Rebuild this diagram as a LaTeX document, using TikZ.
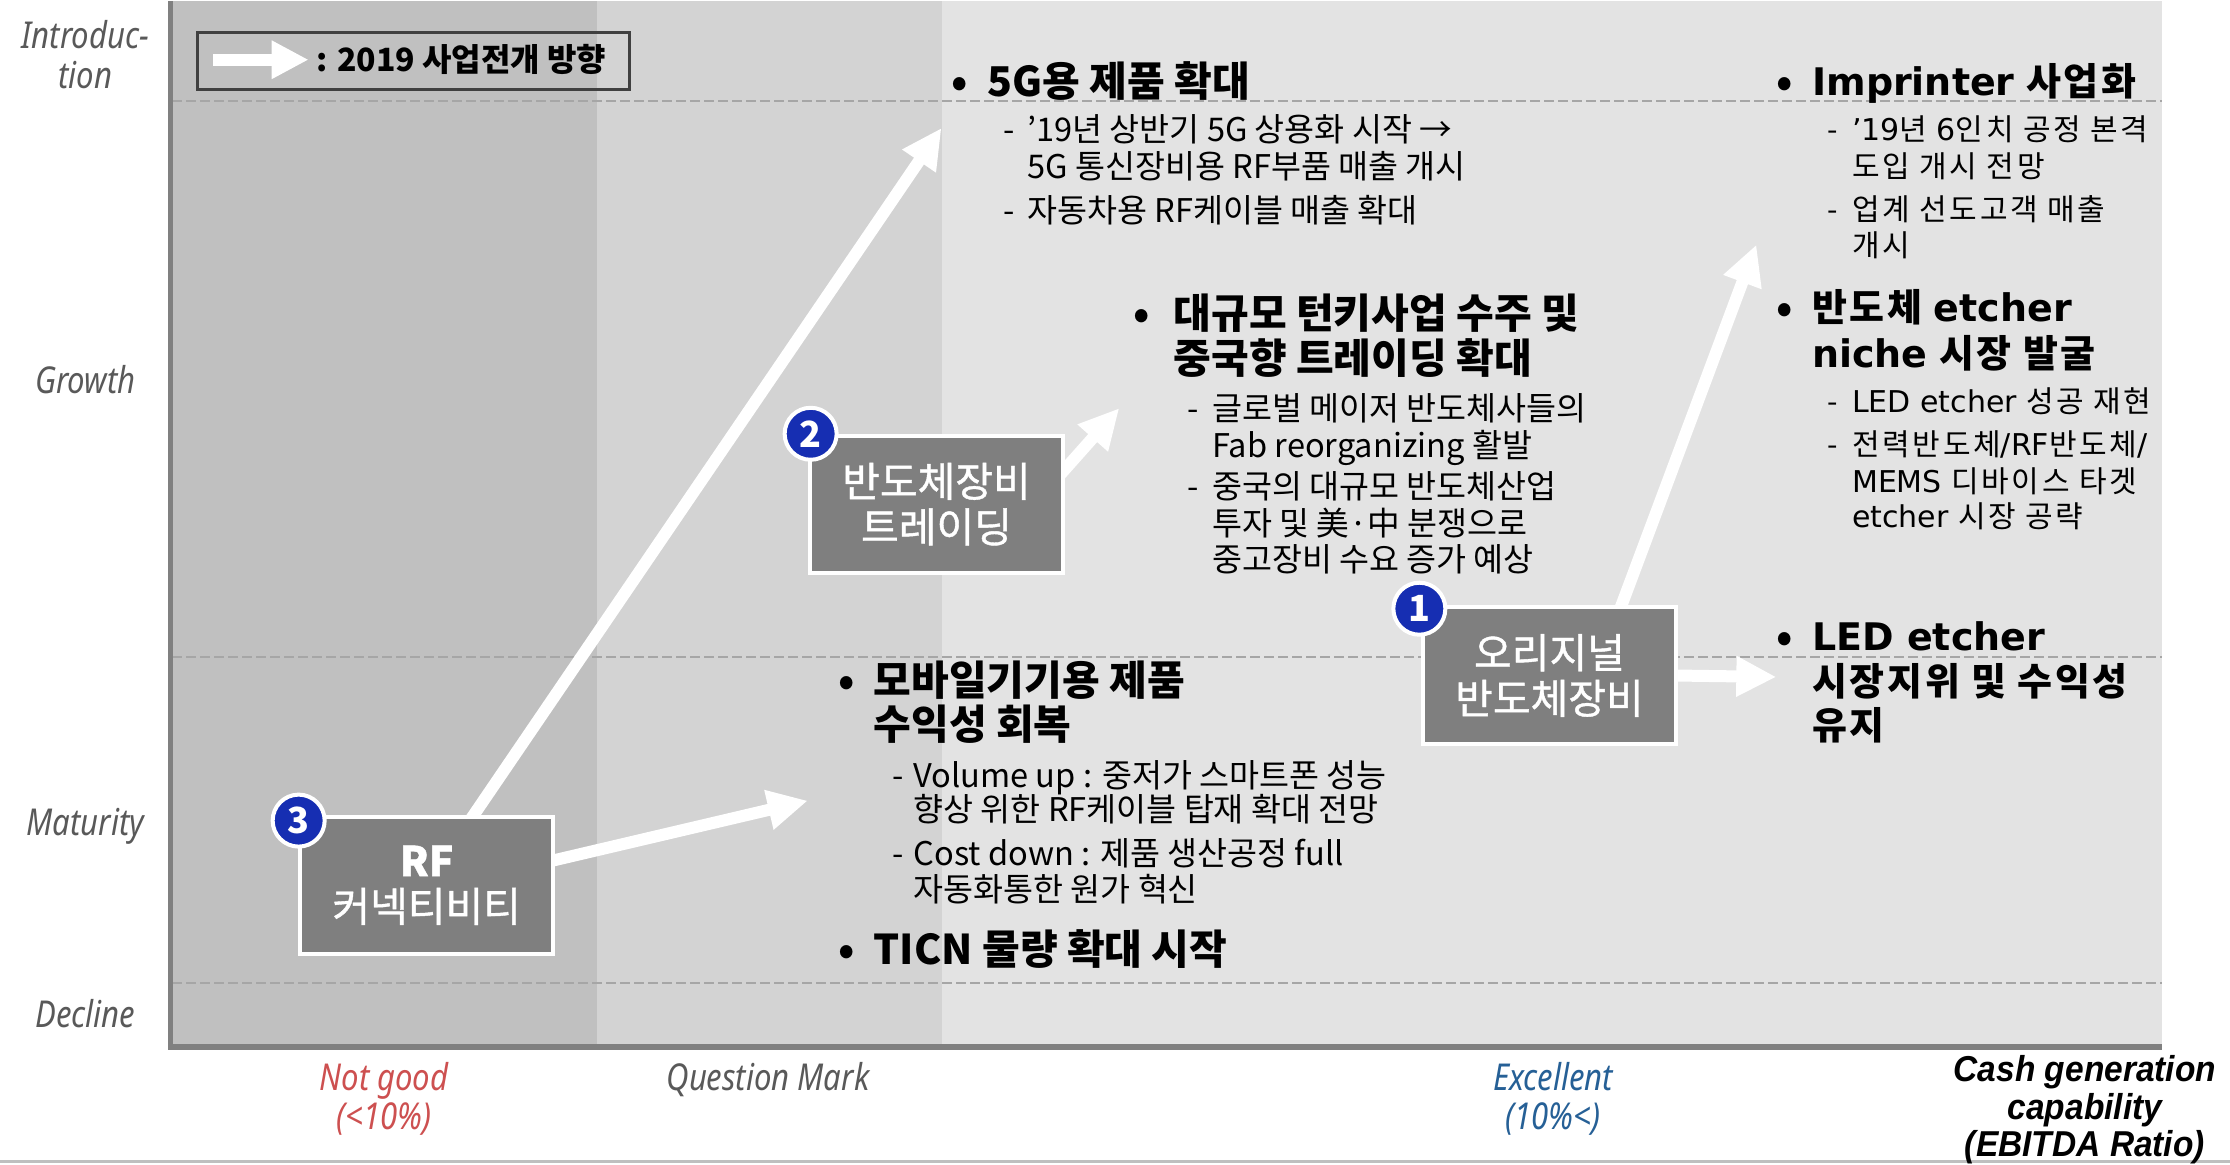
\documentclass[tikz,border=0pt]{standalone}
\usepackage{fontspec}
\setmainfont{Noto Sans CJK KR}
\newfontfamily\dv{DejaVu Sans}
\newfontfamily\krw{Noto Sans CJK KR}[LetterSpace=9]
\newfontfamily\krh{Noto Sans CJK KR}[LetterSpace=7]
\newfontfamily\medf{Noto Sans CJK KR}[FakeBold=1]
\newfontfamily\axf{Noto Sans}[FakeStretch=0.84]
\newfontfamily\cashf{Liberation Sans}[FakeStretch=0.93]
\usetikzlibrary{arrows.meta,calc}
\definecolor{rgA}{RGB}{192,192,192}
\definecolor{rgB}{RGB}{211,211,211}
\definecolor{rgC}{RGB}{227,227,227}
\definecolor{boxg}{RGB}{127,127,127}
\definecolor{numb}{RGB}{22,46,178}
\definecolor{axg}{RGB}{128,128,128}
\definecolor{dashg}{RGB}{166,166,166}
\definecolor{lblg}{RGB}{89,89,89}
\definecolor{ngred}{RGB}{205,80,80}
\definecolor{exblue}{RGB}{38,96,150}
\definecolor{legd}{RGB}{64,64,64}
\definecolor{botl}{RGB}{191,191,191}
\pgfdeclarelayer{bgl}
\pgfdeclarelayer{arl}
\pgfsetlayers{bgl,arl,main}
\newcommand\lt[1]{{\dv #1}}
\begin{document}
\begin{tikzpicture}[x=0.7111pt,y=-0.7111pt,
  bd/.style={anchor=west,inner sep=0pt,text height=12.4pt,text depth=0pt,font=\fontsize{16.3}{18}\selectfont},
  hd/.style={anchor=west,inner sep=0pt,text height=15.6pt,text depth=0pt,font=\fontsize{20.5}{23}\selectfont\bfseries},
  rbd/.style={anchor=west,inner sep=0pt,text height=11.4pt,text depth=0pt,font=\krw\fontsize{15}{18}\selectfont},
  rhd/.style={anchor=west,inner sep=0pt,text height=14.4pt,text depth=0pt,font=\krh\fontsize{19}{23}\selectfont\bfseries},
  bul/.style={hd,anchor=center},
  axl/.style={anchor=center,inner sep=0pt,text height=13.4pt,text depth=0pt,text=lblg,font=\axf\itshape\fontsize{18.5}{20}\selectfont},
  cashl/.style={anchor=center,inner sep=0pt,text height=13pt,text depth=0pt,text=black,font=\cashf\bfseries\itshape\fontsize{18}{20}\selectfont},
  stagebox/.style={draw=white,line width=2pt,fill=boxg,text=white,minimum width=126.7pt,minimum height=68.4pt,inner sep=0pt,align=center,font=\medf\fontsize{20.5}{22.8}\selectfont},
  numc/.style={circle,fill=numb,draw=white,line width=2pt,minimum size=26pt,inner sep=0pt,text=white,font=\fontsize{18}{18}\selectfont\bfseries},
  warr/.style={draw=white,line width=6pt,-{Triangle[width=19pt,length=20pt]}},
  legarr/.style={draw=white,line width=5.8pt,-{Triangle[width=18pt,length=18.5pt]}}
]
\useasboundingbox (0,0) rectangle (1568,819);
\begin{pgfonlayer}{bgl}
\fill[white] (0,0) rectangle (1568,819);
\fill[rgA] (120,1) rectangle (420,736);
\fill[rgB] (420,1) rectangle (662,736);
\fill[rgC] (662,1) rectangle (1520,736);
\foreach \yy in {71,462,691}
  \draw[dashg,line width=1pt,dash pattern=on 5pt off 2pt] (121,\yy) -- (1520,\yy);
\draw[axg,line width=2.8pt,line join=miter] (120,1) -- (120,736) -- (1520,736);
\draw[botl,line width=1.5pt] (0,817) -- (1568,817);
\end{pgfonlayer}

% axis labels
\node[axl] (yl1) at (60,25) {Introduc-};
\node[axl] (yl2) at (60,53) {tion};
\node[axl] (yl3) at (60,267) {Growth};
\node[axl] (yl4) at (60,578) {Maturity};
\node[axl] (yl5) at (60,713) {Decline};
\node[axl,text=ngred] (xl1) at (270,757) {Not good};
\node[axl,text=ngred] (xl2) at (270,785) {(<10\%)};
\node[axl] (xl3) at (540,757) {Question Mark};
\node[axl,text=exblue] (xl4) at (1092,757) {Excellent};
\node[axl,text=exblue] (xl5) at (1092,785) {(10\%<)};
\node[cashl] (cs1) at (1466,751) {Cash generation};
\node[cashl] (cs2) at (1466,778) {capability};
\node[cashl] (cs3) at (1466,804) {(EBITDA Ratio)};

% legend
\node[draw=legd,line width=1.4pt,minimum width=216pt,minimum height=28.5pt,inner sep=0pt] (leg) at (291,43) {};
\coordinate (la1) at (150,42);
\coordinate (la2) at (217,42);
\draw[legarr] (la1) -- (la2);
\node[anchor=west,inner sep=0pt,text height=11.6pt,text depth=0pt,font=\fontsize{16}{18}\selectfont\bfseries] (legt) at (222,42) {: 2019 사업전개 방향};

% boxes
\node[stagebox] (b2) at (658.5,354.5) {반도체장비\\트레이딩};
\node[stagebox] (b3) at (300,622.5) {{\bfseries RF}\\커넥티비티};
\node[stagebox] (b1) at (1089.5,475) {오리지널\\반도체장비};
\node[numc] (c2) at (570,305) {2};
\node[numc] (c3) at (210,577) {3};
\node[numc] (c1) at (998,428) {1};

% arrows
\coordinate (t1) at (662,90);
\coordinate (t2) at (568,563);
\coordinate (t3) at (787,287);
\coordinate (t4) at (1235,172);
\coordinate (t5) at (1249,476);
\coordinate (s1) at ($(b3.north west)!0.683!(b3.north east)$);
\coordinate (s2) at ($(b3.north east)!0.32!(b3.south east)$);
\coordinate (s3) at ($(b2.north east)!0.25!(b2.south east)$);
\coordinate (s4) at ($(b1.north west)!0.78!(b1.north east)$);
\coordinate (s5) at (b1.east);
\begin{pgfonlayer}{arl}
\draw[warr] ($(s1)!-8pt!(t1)$) -- (t1);
\draw[warr] ($(s2)!-8pt!(t2)$) -- (t2);
\draw[warr] ($(s3)!-8pt!(t3)$) -- (t3);
\draw[warr] ($(s4)!-8pt!(t4)$) -- (t4);
\draw[warr] ($(s5)!-8pt!(t5)$) -- (t5);
\end{pgfonlayer}

% block A
\node[bul] (a0) at (675,57) {•};
\node[hd] (a1) at (694,57) {5G용 제품 확대};
\node[bd] (a2d) at (705,91) {-};
\node[bd] (a2) at (722,91) {’19년 상반기 5G 상용화 시작 →};
\node[bd] (a3) at (722,117) {5G 통신장비용 RF부품 매출 개시};
\node[bd] (a4d) at (705,148) {-};
\node[bd] (a4) at (722,148) {자동차용 RF케이블 매출 확대};

% block B
\node[bul] (bb0) at (803,220) {•};
\node[hd] (bb1) at (825,220) {대규모 턴키사업 수주 및};
\node[hd] (bb2) at (825,252) {중국향 트레이딩 확대};
\node[bd] (bb3d) at (835,287) {-};
\node[bd] (bb3) at (852,287) {글로벌 메이저 반도체사들의};
\node[bd] (bb4) at (852,313) {Fab reorganizing 활발};
\node[bd] (bb5d) at (835,342) {-};
\node[bd] (bb5) at (852,342) {중국의 대규모 반도체산업};
\node[bd] (bb6) at (852,368) {투자 및 美·中 분쟁으로};
\node[bd] (bb7) at (852,393) {중고장비 수요 증가 예상};

% block C
\node[bul] (cc0) at (595,478) {•};
\node[hd] (cc1) at (614,478) {모바일기기용 제품};
\node[hd] (cc2) at (614,509) {수익성 회복};
\node[bd] (cc3d) at (627,545) {-};
\node[bd] (cc3) at (642,545) {Volume up : 중저가 스마트폰 성능};
\node[bd] (cc4) at (642,569) {향상 위한 RF케이블 탑재 확대 전망};
\node[bd] (cc5d) at (627,600) {-};
\node[bd] (cc5) at (642,600) {Cost down : 제품 생산공정 full};
\node[bd] (cc6) at (642,625) {자동화통한 원가 혁신};
\node[bul] (cc7b) at (595,667) {•};
\node[hd] (cc7) at (614,667) {TICN 물량 확대 시작};

% block D
\node[bul] (d0) at (1255,57) {•};
\node[rhd] (d1) at (1274,57) {\lt{Imprinter} 사업화};
\node[rbd] (d2d) at (1285,91) {-};
\node[rbd] (d2) at (1302,91) {\lt{’19}년 \lt{6}인치 공정 본격};
\node[rbd] (d3) at (1302,117) {도입 개시 전망};
\node[rbd] (d4d) at (1285,147) {-};
\node[rbd] (d4) at (1302,147) {업계 선도고객 매출};
\node[rbd] (d5) at (1302,172) {개시};
\node[bul] (d6b) at (1255,216) {•};
\node[rhd] (d6) at (1274,216) {반도체 \lt{etcher}};
\node[rhd] (d7) at (1274,248) {\lt{niche} 시장 발굴};
\node[rbd] (d8d) at (1285,282) {-};
\node[rbd] (d8) at (1302,282) {\lt{LED etcher} 성공 재현};
\node[rbd] (d9d) at (1285,312) {-};
\node[rbd] (d9) at (1302,312) {전력반도체\lt{/RF}반도체\lt{/}};
\node[rbd] (d10) at (1302,338) {\lt{MEMS} 디바이스 타겟};
\node[rbd] (d11) at (1302,363) {\lt{etcher} 시장 공략};
\node[bul] (d12b) at (1255,447) {•};
\node[rhd] (d12) at (1274,447) {\lt{LED etcher}};
\node[rhd] (d13) at (1274,479) {시장지위 및 수익성};
\node[rhd] (d14) at (1274,510) {유지};
\end{tikzpicture}
\end{document}
